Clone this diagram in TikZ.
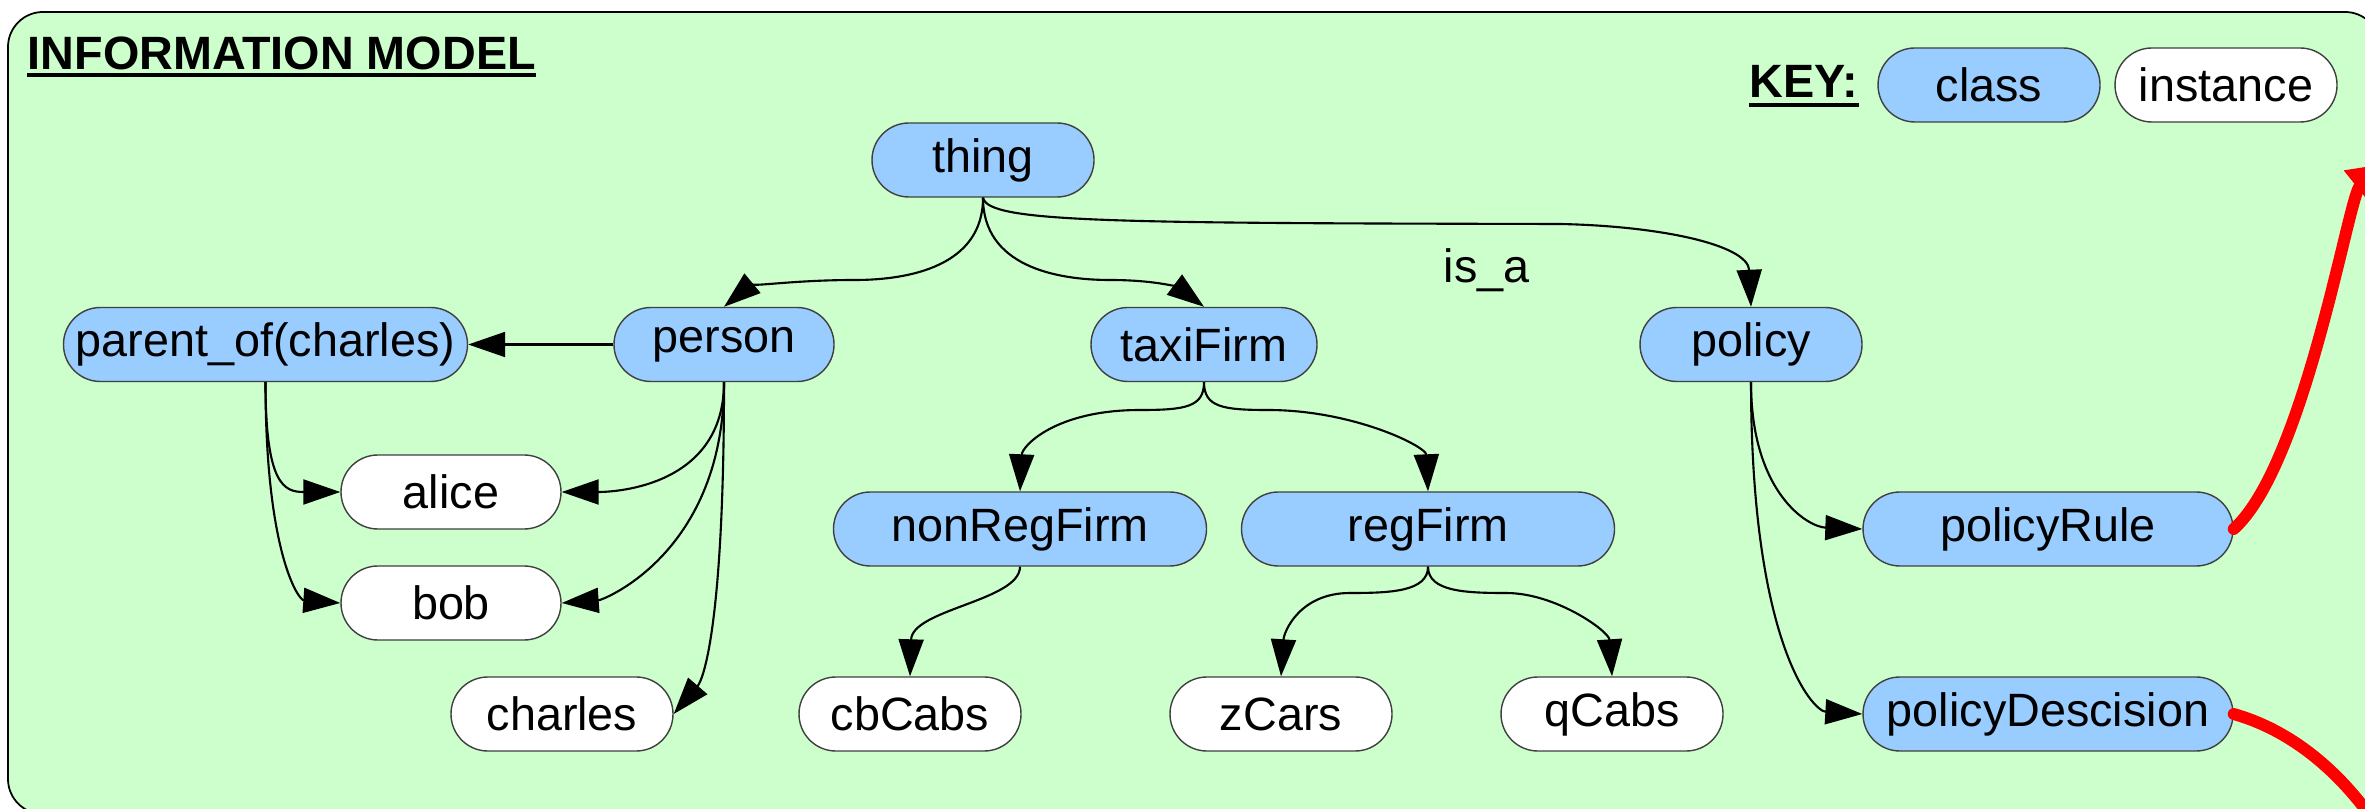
\documentclass[tikz,border=0pt]{standalone}
\usepackage{fontspec}
\setmainfont{Liberation Sans}
\usetikzlibrary{arrows.meta}
\definecolor{modelgreen}{RGB}{204,255,204}
\definecolor{classblue}{RGB}{153,204,255}
\definecolor{flowred}{RGB}{255,0,0}

\begin{document}
\begin{tikzpicture}[font=\fontsize{13.3pt}{16pt}\selectfont,
          cls/.style={draw=black!75, line width=0.4pt, fill=classblue, rounded corners=0.369cm, minimum width=2.22cm, minimum height=0.74cm, inner xsep=0.5mm, inner ysep=0pt},
          inst/.style={cls, fill=white},
          isa/.style={-{Triangle[length=3.7mm, width=2.5mm]}, line width=0.6pt},
          outflow/.style={-{Triangle[length=4mm, width=4.2mm]}, line width=3.4pt, flowred, line cap=round}]
        \useasboundingbox (0,0) rectangle (23.65,-8.09);
        \draw[fill=modelgreen, line width=0.5pt, rounded corners=0.35cm] (0.08,-0.12) rectangle (23.8,-8.14);
        \node[anchor=base west, inner sep=0pt, font=\fontsize{13.3pt}{16pt}\selectfont\bfseries] (title) at (0.27,-0.70) {INFORMATION MODEL};
        \draw[line width=1.2pt] ([yshift=-0.05cm]title.base west) -- ([yshift=-0.05cm]title.base east);
        \node[anchor=base west, inner sep=0pt, font=\fontsize{13.3pt}{16pt}\selectfont\bfseries] (key) at (17.49,-0.98) {KEY:};
        \draw[line width=1.2pt] ([yshift=-0.07cm]key.base west) -- ([yshift=-0.07cm]key.base east);
        \node[cls]  (class)    at (19.89,-0.85) {class};
        \node[inst] (instance) at (22.26,-0.85) {instance};
        % class tree
        \node[cls] (thing) at (9.83,-1.60) {thing};
        \node[cls, minimum width=4.04cm] (parent) at (2.655,-3.445) {parent\_of(charles)};
        \node[cls, minimum width=2.20cm] (person) at (7.24,-3.445) {person};
        \node[cls, minimum width=2.26cm] (taxi) at (12.04,-3.445) {taxiFirm};
        \node[cls] (policy) at (17.51,-3.445) {policy};
        \node[inst, minimum width=2.20cm] (alice) at (4.51,-4.92) {alice};
        \node[inst, minimum width=2.20cm] (bob) at (4.51,-6.03) {bob};
        \node[inst] (charles) at (5.62,-7.14) {charles};
        \node[cls, minimum width=3.73cm] (nonreg) at (10.20,-5.29) {nonRegFirm};
        \node[cls, minimum width=3.73cm] (reg) at (14.28,-5.29) {regFirm};
        \node[inst] (cbcabs) at (9.10,-7.14) {cbCabs};
        \node[inst] (zcars) at (12.81,-7.14) {zCars};
        \node[inst] (qcabs) at (16.12,-7.14) {qCabs};
        \node[cls, minimum width=3.70cm] (rule) at (20.48,-5.29) {policyRule};
        \node[cls, minimum width=3.70cm] (decision) at (20.48,-7.14) {policyDescision};
        \node[anchor=base west, inner sep=0pt] (isalabel) at (14.43,-2.83) {is\_a};
        % is_a links
        \draw[isa] (thing.south) .. controls +(0,-0.68) and +(0.55,0) .. (8.55,-2.80) .. controls +(-0.65,0) and +(0.23,0.19) .. (person.north);
        \draw[isa] (thing.south) .. controls +(0,-0.68) and +(-0.55,0) .. (11.1,-2.80) .. controls +(0.5,0) and +(-0.24,0.18) .. (taxi.north);
        \draw[isa] (thing.south) .. controls +(0.05,-0.25) and +(-4.5,0.01) .. (15.6,-2.24) .. controls +(1.0,-0.02) and +(-0.03,0.62) .. (policy.north);
        \draw[isa] (person) -- (parent);
        \draw[isa] (parent.south) .. controls +(0,-1.03) and +(-0.56,0) .. (alice.west);
        \draw[isa] (parent.south) .. controls +(0,-1.7) and +(-0.42,0.03) .. (bob.west);
        \draw[isa] (person.south) .. controls +(0,-1.03) and +(0.56,0) .. (alice.east);
        \draw[isa] (person.south) .. controls +(0,-1.7) and +(0.42,0.03) .. (bob.east);
        \draw[isa] (person.south) .. controls +(0,-2.4) and +(0.3,0.35) .. (charles.east);
        \draw[isa] (taxi.south) .. controls +(0,-0.25) and +(0.45,0) .. (11.4,-4.10) .. controls +(-0.85,0) and +(0.02,0.45) .. (nonreg.north);
        \draw[isa] (taxi.south) .. controls +(0,-0.25) and +(-0.45,0) .. (12.68,-4.10) .. controls +(0.85,0) and +(-0.02,0.45) .. (reg.north);
        \draw[isa] (nonreg.south) .. controls +(0,-0.34) and +(0.02,0.67) .. (cbcabs.north);
        \draw[isa] (reg.south) .. controls +(0,-0.25) and +(0.4,0) .. (13.5,-5.93) .. controls +(-0.5,0) and +(0.03,0.45) .. (zcars.north);
        \draw[isa] (reg.south) .. controls +(0,-0.25) and +(-0.4,0) .. (15.06,-5.93) .. controls +(0.5,0) and +(-0.03,0.45) .. (qcabs.north);
        \draw[isa] (policy.south) .. controls +(0,-1.1) and +(-0.55,0.02) .. (rule.west);
        \draw[isa] (policy.south) .. controls +(0,-2.6) and +(-0.5,0.03) .. (decision.west);
        % links leaving the model
        \coordinate (ruletip) at (23.89,-1.63);
        \coordinate (decisionout) at (24.0,-8.6);
        \draw[outflow] (rule.east) .. controls (23.05,-4.65) and (23.49,-1.95) .. (ruletip);
        \draw[outflow] (decision.east) .. controls (22.9,-7.3) and (23.4,-7.7) .. (decisionout);
      \end{tikzpicture}
\end{document}
